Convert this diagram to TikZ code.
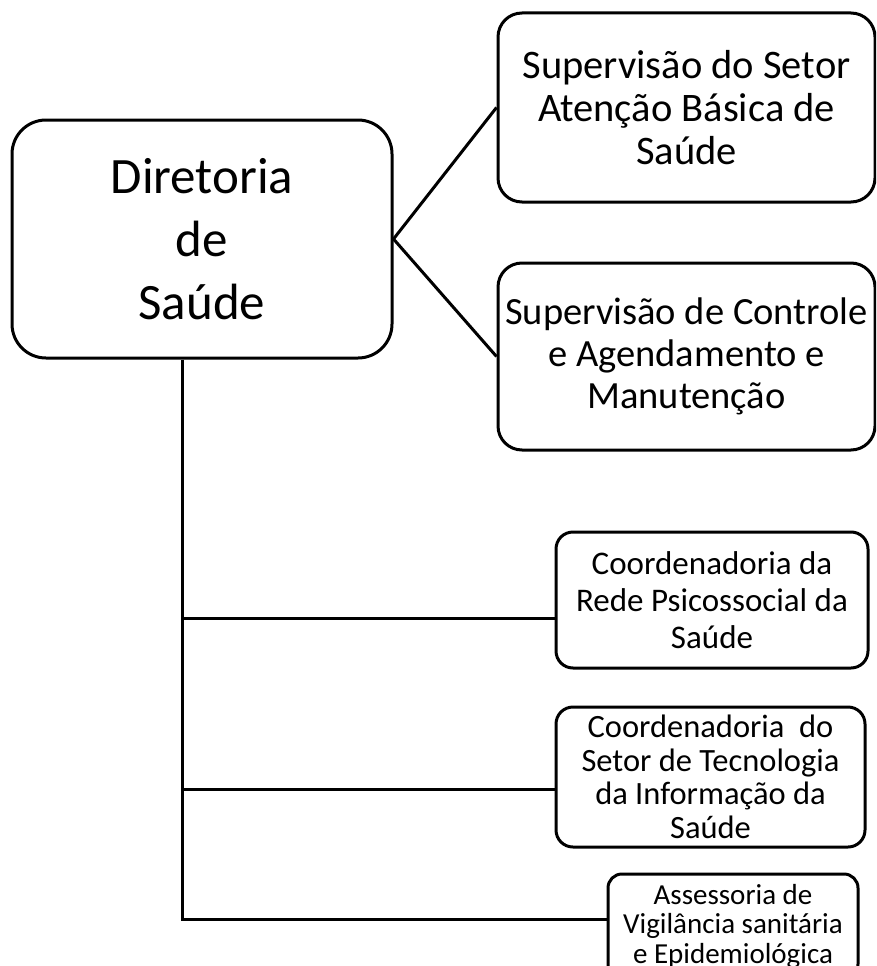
\documentclass[tikz,border=0pt]{standalone}
\usepackage{fontspec}
\setmainfont{Carlito}
\begin{document}
\begin{tikzpicture}[x=1pt,y=-1pt,
  box/.style={draw=black, line width=3pt, fill=white, rectangle, align=center, inner sep=0pt},
  conn/.style={draw=black, line width=3pt}]
\useasboundingbox (0,0) rectangle (876,966);
\begin{scope}
\clip (0,0) rectangle (876,966);
\node[box, rounded corners=34pt, minimum width=380pt, minimum height=238pt,
  font=\fontsize{51}{63}\selectfont] (dir) at (202,239) {Diretoria\\de\\Saúde};
\node[box, rounded corners=24pt, minimum width=377pt, minimum height=189pt,
  font=\fontsize{40.5}{43}\selectfont] (sup1) at (686.5,107.5) {Supervisão do Setor\\Atenção Básica de\\Saúde};
\node[box, rounded corners=24pt, minimum width=377pt, minimum height=187pt,
  font=\fontsize{38.5}{42}\selectfont] (sup2) at (686.5,356.5) {Supervisão de Controle\\e Agendamento e\\Manutenção};
\node[box, rounded corners=17pt, minimum width=312pt, minimum height=136pt,
  font=\fontsize{33}{37}\selectfont] (rede) at (712,600) {Coordenadoria da\\Rede Psicossocial da\\Saúde};
\node[box, rounded corners=17pt, minimum width=309pt, minimum height=140pt,
  font=\fontsize{32.5}{33.5}\selectfont] (setor) at (710.5,777) {Coordenadoria\ \ do\\Setor de Tecnologia\\da Informação da\\Saúde};
\node[box, rounded corners=14pt, minimum width=250pt, minimum height=104pt,
  font=\fontsize{29}{29.5}\selectfont] (ass) at (733,926) {Assessoria de\\Vigilância sanitária\\e Epidemiológica};
\coordinate (b1) at (182,618);
\coordinate (b2) at (182,789);
\coordinate (b3) at (182,919);
\draw[conn] (dir.east) -- (sup1.west);
\draw[conn] (dir.east) -- (sup2.west);
\draw[conn] (dir.south -| b3) -- (b3) -- (b3 -| ass.west);
\draw[conn] (b1) -- (b1 -| rede.west);
\draw[conn] (b2) -- (b2 -| setor.west);
\end{scope}
\end{tikzpicture}
\end{document}
